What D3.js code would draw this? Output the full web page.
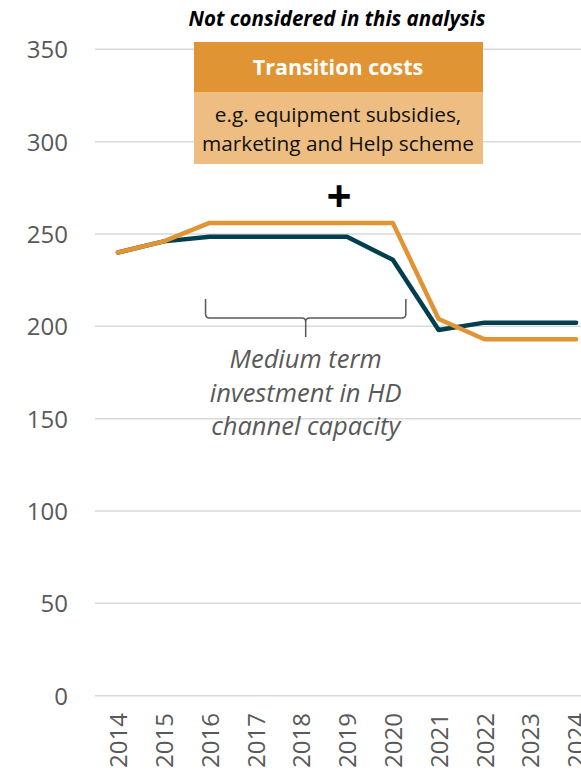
<!DOCTYPE html>
<html>
<head>
<meta charset="utf-8">
<script src="https://cdn.jsdelivr.net/npm/d3@7"></script>
<style>
  html, body { margin: 0; padding: 0; background: #fff; }
  svg { display: block; }
</style>
</head>
<body>
<svg id="chart" width="581" height="770"></svg>
<script>
// Years on the category axis
const years = ["2014","2015","2016","2017","2018","2019","2020","2021","2022","2023","2024"];
// Cost paths (two scenarios)
const tealValues   = [240, 246, 248.5, 248.5, 248.5, 248.5, 236, 198, 202, 202, 202];
const orangeValues = [240, 246, 256, 256, 256, 256, 256, 204, 193, 193, 193];
// Value axis ticks
const yTicks = [0, 50, 100, 150, 200, 250, 300, 350];
// Annotation texts
const headerTitle = "Not considered in this analysis";
const boxTitle = "Transition costs";
const boxLines = ["e.g. equipment subsidies,", "marketing and Help scheme"];
const braceLines = ["Medium term", "investment in HD", "channel capacity"];

const svg = d3.select("#chart");
const FONT = "'Open Sans', 'Liberation Sans', sans-serif";
const GREY = "#595959";
const TEAL = "#023F4E";
const ORANGE = "#E09433";

const x = d3.scalePoint().domain(years).range([95, 599]).padding(0.5);
const y = d3.scaleLinear().domain([0, 350]).range([695.7, 49.3]);

// Gridlines
svg.append("g")
  .selectAll("line")
  .data(yTicks)
  .join("line")
  .attr("x1", 95).attr("x2", 581)
  .attr("y1", d => y(d)).attr("y2", d => y(d))
  .attr("stroke", "#D9D9D9").attr("stroke-width", 1.5);

// Value axis labels
const yAxis = d3.axisLeft(y).tickValues(yTicks).tickSize(0).tickPadding(0);
const gy = svg.append("g").attr("transform", "translate(68,0)").call(yAxis);
gy.select(".domain").remove();
gy.selectAll("text")
  .attr("font-family", FONT).attr("font-size", 24).attr("fill", GREY)
  .attr("dy", "0.36em");

// Category axis labels, rotated
const xAxis = d3.axisBottom(x).tickSize(0).tickPadding(0);
const gx = svg.append("g").attr("transform", "translate(0,713)").call(xAxis);
gx.select(".domain").remove();
gx.selectAll("text")
  .attr("font-family", FONT).attr("font-size", 24).attr("fill", GREY)
  .attr("transform", "rotate(-90)")
  .attr("text-anchor", "end")
  .attr("x", 0).attr("y", 0).attr("dx", 0).attr("dy", "0.36em");

// Lines
const line = d3.line().x((d, i) => x(years[i])).y(d => y(d));
svg.append("path").datum(tealValues)
  .attr("d", line).attr("fill", "none")
  .attr("stroke", TEAL).attr("stroke-width", 4.5)
  .attr("stroke-linejoin", "round").attr("stroke-linecap", "round");
svg.append("path").datum(orangeValues)
  .attr("d", line).attr("fill", "none")
  .attr("stroke", ORANGE).attr("stroke-width", 4.5)
  .attr("stroke-linejoin", "round").attr("stroke-linecap", "round");

// Transition costs box
svg.append("text")
  .attr("x", 337).attr("y", 26)
  .attr("text-anchor", "middle")
  .attr("font-family", FONT).attr("font-size", 20.5)
  .attr("font-weight", "bold").attr("font-style", "italic")
  .attr("fill", "#000").text(headerTitle);

svg.append("rect").attr("x", 194).attr("y", 42).attr("width", 289).attr("height", 50).attr("fill", ORANGE);
svg.append("rect").attr("x", 194).attr("y", 92).attr("width", 289).attr("height", 72).attr("fill", "#EDBD82");

svg.append("text")
  .attr("x", 338).attr("y", 75)
  .attr("text-anchor", "middle")
  .attr("font-family", FONT).attr("font-size", 21.5).attr("font-weight", "bold")
  .attr("fill", "#fff").text(boxTitle);

svg.append("g").selectAll("text")
  .data(boxLines).join("text")
  .attr("x", 338).attr("y", (d, i) => 122 + i * 28.5)
  .attr("text-anchor", "middle")
  .attr("font-family", FONT).attr("font-size", 20.8)
  .attr("fill", "#111").text(d => d);

// Plus sign
svg.append("text")
  .attr("x", 339).attr("y", 212)
  .attr("text-anchor", "middle")
  .attr("font-family", FONT).attr("font-size", 44).attr("font-weight", "bold")
  .attr("fill", "#000").text("+");

// Brace over the medium-term window
const bx0 = x("2016") - 4, bx1 = x("2020") + 13, bm = (bx0 + bx1) / 2;
const bTop = 299, bMid = 318, bTip = 337, r = 4;
svg.append("path")
  .attr("d", `M${bx0},${bTop} V${bMid - r} Q${bx0},${bMid} ${bx0 + r},${bMid} H${bm - r} Q${bm},${bMid} ${bm},${bMid + r} V${bTip}
              M${bm},${bMid + r} Q${bm},${bMid} ${bm + r},${bMid} H${bx1 - r} Q${bx1},${bMid} ${bx1},${bMid - r} V${bTop}`)
  .attr("fill", "none").attr("stroke", GREY).attr("stroke-width", 1.5);

svg.append("g").selectAll("text")
  .data(braceLines).join("text")
  .attr("x", bm).attr("y", (d, i) => 368 + i * 33.5)
  .attr("text-anchor", "middle")
  .attr("font-family", FONT).attr("font-size", 25.5).attr("font-style", "italic")
  .attr("fill", GREY).text(d => d);
</script>
</body>
</html>
